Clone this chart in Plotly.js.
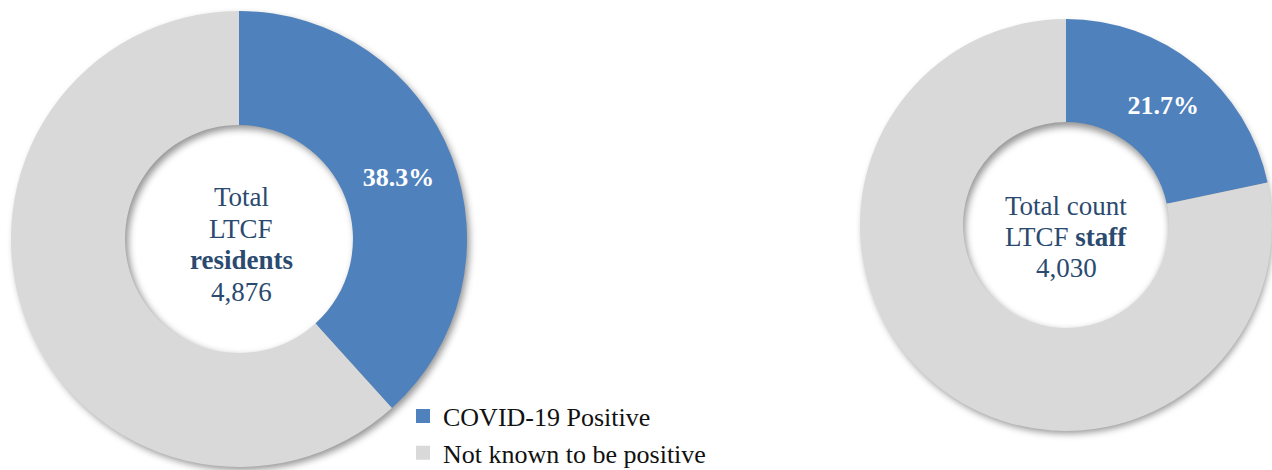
<!DOCTYPE html>
<html>
<head>
<meta charset="utf-8">
<script src="https://cdn.plot.ly/plotly-3.0.1.min.js"></script>
<style>html,body{margin:0;padding:0;background:#fff;}#chart{width:1272px;height:470px;}</style>
</head>
<body>
<div id="chart"></div>
<script>
// ---- data ----
const categories = ["COVID-19 Positive", "Not known to be positive"];
const residentsPct = [38.3, 61.7];
const staffPct = [21.7, 78.3];
const residentsTotal = "4,876";
const staffTotal = "4,030";
const residentsCenter = ["Total", "LTCF", "<b>residents</b>", residentsTotal];
const staffCenter = ["Total count", "LTCF <b>staff</b>", staffTotal];

// ---- style ----
const colors = ["#4f81bd", "#d9d9d9"];
const serif = "'Liberation Serif', 'DejaVu Serif', serif";
const navy = "#2b4a6f";
const W = 1272, H = 470;

function dom(cx, cy, r) {
  return {x: [(cx - r) / W, (cx + r) / W], y: [1 - (cy + r) / H, 1 - (cy - r) / H]};
}
const leftDom = dom(239, 239, 228);
const rightDom = dom(1066, 225, 206);

function shifted(d, dx, dy) {
  return {x: [d.x[0] + dx / W, d.x[1] + dx / W], y: [d.y[0] - dy / H, d.y[1] - dy / H]};
}

function pie(values, dom, isShadow) {
  return {
    type: "pie",
    labels: categories,
    values: values,
    domain: dom,
    hole: 0.5,
    sort: false,
    direction: "clockwise",
    rotation: 0,
    marker: {
      colors: isShadow ? ["rgba(0,0,0,0.42)", "rgba(0,0,0,0.42)"] : colors,
      line: {width: 0}
    },
    texttemplate: isShadow ? ["", ""] : ["<b>%{percent:.1%}</b>", ""],
    textposition: "inside",
    insidetextorientation: "horizontal",
    textfont: {family: serif, size: 26, color: "#ffffff"},
    showlegend: !isShadow,
    hoverinfo: "skip",
    name: isShadow ? "shadow" : ""
  };
}

const data = [
  pie(residentsPct, shifted(leftDom, 3, 4), true),
  pie(staffPct, shifted(rightDom, 3, 4), true),
  pie(residentsPct, leftDom, false),
  pie(staffPct, rightDom, false)
];

function lineAnn(text, cx, baseline, size) {
  return {
    text: text,
    x: cx / W, y: 1 - (baseline - 0.33 * size) / H, xref: "paper", yref: "paper",
    xanchor: "center", yanchor: "middle", showarrow: false, align: "center",
    font: {family: serif, size: size, color: navy}
  };
}

const leftBaselines = [206, 238, 269, 301];
const rightBaselines = [215, 246, 277];
const annotations = [];
residentsCenter.forEach((t, i) => annotations.push(lineAnn(t, 241, leftBaselines[i], 27)));
staffCenter.forEach((t, i) => annotations.push(lineAnn(t, 1066, rightBaselines[i], 27)));

const layout = {
  width: W, height: H,
  margin: {l: 0, r: 0, t: 0, b: 0},
  paper_bgcolor: "#ffffff",
  font: {family: serif, color: "#111"},
  showlegend: true,
  legend: {
    x: 402 / W, xanchor: "left",
    y: 0.02, yanchor: "bottom",
    font: {family: serif, size: 26, color: "#111111"},
    bgcolor: "rgba(0,0,0,0)",
    traceorder: "normal"
  },
  annotations: annotations
};

Plotly.newPlot("chart", data, layout, {displayModeBar: false, staticPlot: true}).then(function (gd) {
  const svg = gd.querySelector("svg.main-svg");
  const ns = "http://www.w3.org/2000/svg";
  let defs = svg.querySelector("defs");
  if (!defs) { defs = document.createElementNS(ns, "defs"); svg.insertBefore(defs, svg.firstChild); }
  const f = document.createElementNS(ns, "filter");
  f.setAttribute("id", "softshadow");
  f.setAttribute("x", "-20%"); f.setAttribute("y", "-20%");
  f.setAttribute("width", "140%"); f.setAttribute("height", "140%");
  const blur = document.createElementNS(ns, "feGaussianBlur");
  blur.setAttribute("stdDeviation", "3.5");
  f.appendChild(blur);
  defs.appendChild(f);
  const traces = gd.querySelectorAll(".pielayer g.trace");
  for (let i = 0; i < 2 && i < traces.length; i++) {
    traces[i].setAttribute("filter", "url(#softshadow)");
  }
  // legend: slightly larger squares, then nudge the legend box to the reference position
  gd.querySelectorAll(".legend .legendpoints path").forEach(p => p.setAttribute("d", "M7,7H-7V-7H7Z"));
  const leg = gd.querySelector(".infolayer .legend");
  const first = gd.querySelector(".legend .legendpoints path");
  if (leg && first) {
    const r = first.getBoundingClientRect();
    const m = /translate\(\s*([-\d.]+)[ ,]+([-\d.]+)\)/.exec(leg.getAttribute("transform") || "");
    if (m) {
      const dx = 416 - r.left, dy = 409 - r.top;
      leg.setAttribute("transform", "translate(" + (parseFloat(m[1]) + dx) + "," + (parseFloat(m[2]) + dy) + ")");
    }
  }
});
</script>
</body>
</html>
